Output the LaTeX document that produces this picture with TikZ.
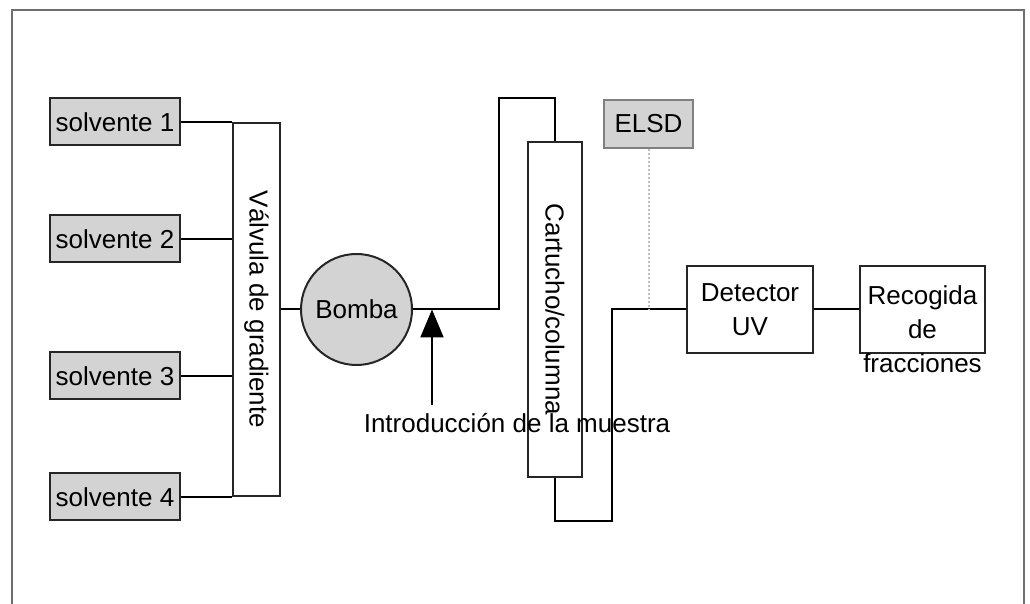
\documentclass[tikz,border=0pt]{standalone}
\usepackage{fontspec}
\setmainfont{Liberation Sans}
\usetikzlibrary{arrows.meta, positioning}
\definecolor{hplcgrey}{HTML}{D3D3D3}
\definecolor{hplcline}{HTML}{262626}
\definecolor{hplcframe}{HTML}{6E6E6E}
\tikzset{
  box/.style={rectangle, draw=hplcline, line width=1pt, align=center, inner sep=0pt},
  boxs/.style={box, fill=hplcgrey, minimum width=65pt, minimum height=23.5pt},
  boxe/.style={box, draw=black!50, fill=hplcgrey, minimum width=44.5pt, minimum height=24pt},
  pumpc/.style={circle, draw=hplcline, line width=1pt, fill=hplcgrey, minimum size=55.5pt, inner sep=0pt},
  pipe/.style={draw=black, line width=1pt},
  probe/.style={draw=black!25, line width=1pt, densely dotted},
  inject/.style={-{Triangle[length=14pt, width=11.5pt]}, line width=1pt},
  frame/.style={draw=hplcframe, line width=0.75pt},
}

\begin{document}
\begin{tikzpicture}[x=0.5pt, y=-0.5pt, font=\fontsize{13}{17}\selectfont]
  \useasboundingbox (0,0) rectangle (1030,604);
  \draw[frame] (12,604) -- (12,10) -- (1024,10) -- (1024,604);
  % solvents and gradient valve
  \foreach \n/\y in {1/122, 2/239, 3/376, 4/497}{
    \node[boxs] (sol\n) at (115,\y) {solvente \n};
  }
  \node[box, minimum width=23.5pt, minimum height=186.5pt,
        label={[rotate=-90]center:Válvula de gradiente}] (valve) at (256.5,309.5) {};
  \foreach \n in {1,...,4}
    \draw[pipe] (sol\n.east) -- (sol\n.east -| valve.west);
  % pump, column, detectors
  \node[pumpc] (pump) at (356.5,309.5) {Bomba};
  \node[box, fill=white, minimum width=27pt, minimum height=167.5pt,
        label={[rotate=-90]center:Cartucho/columna}] (col) at (555,309.5) {};
  \node[boxe] (elsd) at (648.5,124) {ELSD};
  \node[box, minimum width=63pt, minimum height=43.5pt] (det) at (750,309.5) {Detector\\UV};
  \node[box, minimum width=62.5pt, minimum height=43.5pt] (frac) at (922.5,309.5) {};
  \node[align=center, anchor=north, inner sep=0pt] (fractxt) at (922.5,285) {Recogida\\de\\fracciones};
  % flow path
  \coordinate (up) at (499,98);
  \coordinate (down) at (612,521);
  \draw[pipe] (valve.east |- pump) -- (pump.west);
  \draw[pipe] (pump.east) -| (up) -| (col.north);
  \draw[pipe] (col.south) |- (down) |- (det.west);
  \draw[pipe] (det) -- (frac);
  \draw[probe] (elsd.south) -- (elsd.south |- det);
  % sample injection
  \node[anchor=base, inner sep=0pt] (sample) at (517,433) {Introducción de la muestra};
  \coordinate (inj) at (432,405);
  \draw[inject] (inj) -- (inj |- pump);
\end{tikzpicture}
\end{document}
